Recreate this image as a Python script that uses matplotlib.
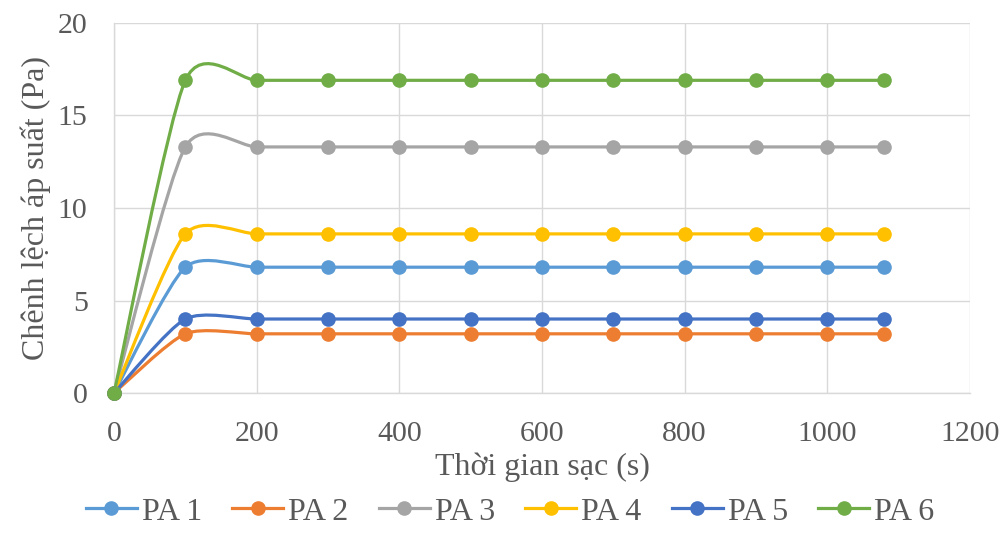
import matplotlib
matplotlib.use("Agg")
import matplotlib.pyplot as plt
from matplotlib.path import Path
from matplotlib.patches import PathPatch
from matplotlib.lines import Line2D
import numpy as np

time_s = [0, 100, 200, 300, 400, 500, 600, 700, 800, 900, 1000, 1080]
series_names = ["PA 1", "PA 2", "PA 3", "PA 4", "PA 5", "PA 6"]
pa1 = [0, 6.8, 6.8, 6.8, 6.8, 6.8, 6.8, 6.8, 6.8, 6.8, 6.8, 6.8]
pa2 = [0, 3.2, 3.2, 3.2, 3.2, 3.2, 3.2, 3.2, 3.2, 3.2, 3.2, 3.2]
pa3 = [0, 13.3, 13.3, 13.3, 13.3, 13.3, 13.3, 13.3, 13.3, 13.3, 13.3, 13.3]
pa4 = [0, 8.6, 8.6, 8.6, 8.6, 8.6, 8.6, 8.6, 8.6, 8.6, 8.6, 8.6]
pa5 = [0, 4.0, 4.0, 4.0, 4.0, 4.0, 4.0, 4.0, 4.0, 4.0, 4.0, 4.0]
pa6 = [0, 16.9, 16.9, 16.9, 16.9, 16.9, 16.9, 16.9, 16.9, 16.9, 16.9, 16.9]
colors = ["#5B9BD5", "#ED7D31", "#A5A5A5", "#FFC000", "#4472C4", "#70AD47"]
x_ticks = [0, 200, 400, 600, 800, 1000, 1200]
y_ticks = [0, 5, 10, 15, 20]

plt.rcParams['font.family'] = ['Liberation Serif', 'DejaVu Serif']
text_color = "#595959"

fig = plt.figure(figsize=(10.08, 5.34), dpi=100)
ax = fig.add_axes([0.1131, 0.264, 0.8492, 0.693])


def smooth_path(xs, ys, k=0.12):
    # Excel-style smoothed line: cubic Bezier through each point
    pts = np.column_stack([xs, ys]).astype(float)
    n = len(pts)
    verts = [pts[0]]
    codes = [Path.MOVETO]
    for i in range(n - 1):
        p0 = pts[i - 1] if i > 0 else pts[i]
        p1 = pts[i]
        p2 = pts[i + 1]
        p3 = pts[i + 2] if i + 2 < n else pts[i + 1]
        c1 = p1 + (p2 - p0) * k
        c2 = p2 - (p3 - p1) * k
        verts += [c1, c2, p2]
        codes += [Path.CURVE4] * 3
    return Path(verts, codes)


all_series = [pa1, pa2, pa3, pa4, pa5, pa6]
handles = []
for name, vals, c in zip(series_names, all_series, colors):
    patch = PathPatch(smooth_path(time_s, vals), facecolor="none", edgecolor=c,
                      lw=2.3, capstyle="round", joinstyle="round", zorder=3)
    ax.add_patch(patch)
    ax.plot(time_s, vals, linestyle="none", marker="o", markersize=9.5,
            color=c, zorder=4, clip_on=False)
    handles.append(Line2D([], [], color=c, lw=2.3, marker="o", markersize=9.5))

ax.set_xlim(0, 1200)
ax.set_ylim(0, 20)
ax.set_xticks(x_ticks)
ax.set_yticks(y_ticks)
ax.grid(True, color="#D9D9D9", lw=1.0, zorder=0)
ax.set_axisbelow(True)
for side in ["top", "right"]:
    ax.spines[side].set_visible(False)
for side in ["left", "bottom"]:
    ax.spines[side].set_color("#D9D9D9")
    ax.spines[side].set_linewidth(1.0)
ax.tick_params(axis="both", length=0, labelsize=21.5, colors=text_color)
ax.tick_params(axis="x", pad=20)
ax.tick_params(axis="y", pad=19)

ax.set_xlabel("Thời gian sạc (s)", fontsize=23, color=text_color, labelpad=4)
ax.set_ylabel("Chênh lệch áp suất (Pa)", fontsize=23, color=text_color, labelpad=5)

fig.legend(handles, series_names, loc="lower center", ncol=6, frameon=False,
           fontsize=23, labelcolor=text_color, handlelength=1.6,
           columnspacing=0.95, handletextpad=0.15, bbox_to_anchor=(0.506, -0.04))

fig.savefig("out.png", dpi=100)
